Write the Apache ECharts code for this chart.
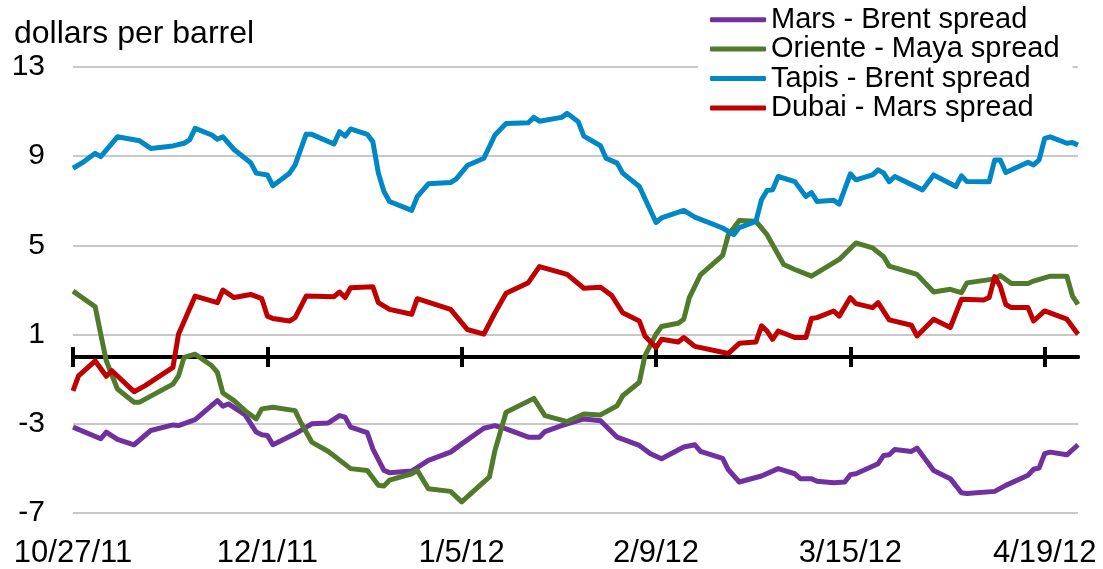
<!DOCTYPE html>
<html>
<head>
<meta charset="utf-8">
<title>Crude oil spreads</title>
<script src="https://cdn.jsdelivr.net/npm/echarts@6/dist/echarts.min.js"></script>
<style>
    html, body { margin: 0; padding: 0; background: #fff; }
    #main { width: 1103px; height: 569px; }
</style>
</head>
<body>
<div id="main"></div>
<script>
    var purple = '#7030A0';
    var green = '#4F7B2B';
    var blue = '#0087C6';
    var red = '#C00000';
    var font = '"Liberation Sans", Arial, sans-serif';

    // axis range and major ticks (every 35 days)
    var startDate = '10/27/11';
    var endDate = '4/25/12';
    var tickDates = ['10/27/11', '12/1/11', '1/5/12', '2/9/12', '3/15/12', '4/19/12'];
    var yTicks = [-7, -3, 1, 5, 9, 13];

    // dollars per barrel, [date, value]
    var marsBrent = [
        ['10/27/11', -3.15], ['11/1/11', -3.67], ['11/2/11', -3.37], ['11/4/11', -3.7], ['11/7/11', -3.94],
        ['11/10/11', -3.3], ['11/14/11', -3.05], ['11/15/11', -3.08], ['11/18/11', -2.81], ['11/22/11', -1.96],
        ['11/23/11', -2.21], ['11/24/11', -2.11], ['11/27/11', -2.6], ['11/29/11', -3.37], ['11/30/11', -3.49],
        ['12/1/11', -3.52], ['12/2/11', -3.94], ['12/6/11', -3.45], ['12/9/11', -3.0], ['12/12/11', -2.96],
        ['12/14/11', -2.63], ['12/15/11', -2.7], ['12/16/11', -3.15], ['12/19/11', -3.4], ['12/20/11', -4.12],
        ['12/22/11', -5.09], ['12/23/11', -5.19], ['12/27/11', -5.12], ['12/30/11', -4.64], ['1/3/12', -4.27],
        ['1/5/12', -3.9], ['1/9/12', -3.2], ['1/11/12', -3.08], ['1/13/12', -3.23], ['1/17/12', -3.6],
        ['1/19/12', -3.6], ['1/20/12', -3.35], ['1/23/12', -3.08], ['1/27/12', -2.78], ['1/30/12', -2.86],
        ['2/2/12', -3.6], ['2/6/12', -3.97], ['2/8/12', -4.34], ['2/10/12', -4.57], ['2/14/12', -4.04],
        ['2/16/12', -3.94], ['2/17/12', -4.24], ['2/21/12', -4.55], ['2/22/12', -5.05], ['2/24/12', -5.61],
        ['2/28/12', -5.34], ['3/2/12', -5.01], ['3/5/12', -5.24], ['3/6/12', -5.46], ['3/8/12', -5.46],
        ['3/9/12', -5.58], ['3/12/12', -5.64], ['3/14/12', -5.61], ['3/15/12', -5.28], ['3/16/12', -5.24],
        ['3/20/12', -4.79], ['3/21/12', -4.42], ['3/22/12', -4.39], ['3/23/12', -4.15], ['3/26/12', -4.24],
        ['3/27/12', -4.09], ['3/30/12', -5.09], ['4/2/12', -5.46], ['4/4/12', -6.09], ['4/5/12', -6.13],
        ['4/10/12', -6.03], ['4/12/12', -5.76], ['4/16/12', -5.31], ['4/17/12', -5.04], ['4/18/12', -4.98],
        ['4/19/12', -4.34], ['4/20/12', -4.27], ['4/23/12', -4.39], ['4/25/12', -3.94]
    ];
    var orienteMaya = [
        ['10/27/11', 2.95], ['10/31/11', 2.25], ['11/1/11', 1.02], ['11/2/11', -0.18], ['11/4/11', -1.44],
        ['11/7/11', -2.03], ['11/8/11', -2.03], ['11/14/11', -1.22], ['11/15/11', -0.85], ['11/16/11', -0.02],
        ['11/18/11', 0.12], ['11/21/11', -0.4], ['11/22/11', -0.69], ['11/23/11', -1.62], ['11/25/11', -1.96],
        ['11/27/11', -2.41], ['11/29/11', -2.78], ['11/30/11', -2.33], ['12/2/11', -2.26], ['12/6/11', -2.41],
        ['12/7/11', -2.93], ['12/9/11', -3.82], ['12/12/11', -4.24], ['12/16/11', -5.01], ['12/19/11', -5.09],
        ['12/21/11', -5.76], ['12/22/11', -5.79], ['12/23/11', -5.53], ['12/27/11', -5.24], ['12/28/11', -5.09],
        ['12/30/11', -5.91], ['1/3/12', -6.03], ['1/5/12', -6.5], ['1/10/12', -5.38], ['1/11/12', -4.19],
        ['1/13/12', -2.48], ['1/18/12', -1.86], ['1/20/12', -2.63], ['1/24/12', -2.9], ['1/27/12', -2.56],
        ['1/30/12', -2.6], ['2/2/12', -2.19], ['2/3/12', -1.74], ['2/6/12', -1.14], ['2/7/12', 0.05],
        ['2/9/12', 1.02], ['2/10/12', 1.36], ['2/13/12', 1.51], ['2/14/12', 1.69], ['2/15/12', 2.66],
        ['2/17/12', 3.68], ['2/21/12', 4.55], ['2/22/12', 5.45], ['2/24/12', 6.12], ['2/27/12', 6.08],
        ['2/29/12', 5.48], ['3/3/12', 4.14], ['3/5/12', 3.92], ['3/8/12', 3.62], ['3/13/12', 4.37],
        ['3/16/12', 5.11], ['3/19/12', 4.89], ['3/21/12', 4.49], ['3/22/12', 4.07], ['3/27/12', 3.7],
        ['3/30/12', 2.91], ['4/2/12', 3.03], ['4/4/12', 2.88], ['4/5/12', 3.32], ['4/10/12', 3.5],
        ['4/11/12', 3.65], ['4/13/12', 3.29], ['4/16/12', 3.29], ['4/17/12', 3.4], ['4/20/12', 3.62],
        ['4/23/12', 3.62], ['4/24/12', 2.73], ['4/25/12', 2.35]
    ];
    var tapisBrent = [
        ['10/27/11', 8.46], ['10/29/11', 8.76], ['10/31/11', 9.13], ['11/1/11', 8.98], ['11/4/11', 9.87],
        ['11/8/11', 9.69], ['11/10/11', 9.35], ['11/14/11', 9.46], ['11/16/11', 9.58], ['11/17/11', 9.73],
        ['11/18/11', 10.25], ['11/21/11', 9.95], ['11/22/11', 9.76], ['11/23/11', 9.87], ['11/25/11', 9.3],
        ['11/28/11', 8.71], ['11/29/11', 8.24], ['12/1/11', 8.16], ['12/2/11', 7.67], ['12/5/11', 8.24],
        ['12/6/11', 8.61], ['12/8/11', 9.99], ['12/9/11', 9.98], ['12/13/11', 9.55], ['12/14/11', 10.1],
        ['12/15/11', 9.9], ['12/16/11', 10.22], ['12/19/11', 9.98], ['12/20/11', 9.65], ['12/21/11', 8.24],
        ['12/22/11', 7.42], ['12/23/11', 6.97], ['12/27/11', 6.57], ['12/28/11', 7.19], ['12/30/11', 7.76],
        ['1/3/12', 7.82], ['1/4/12', 7.97], ['1/6/12', 8.58], ['1/9/12', 8.91], ['1/11/12', 9.95],
        ['1/13/12', 10.47], ['1/17/12', 10.5], ['1/18/12', 10.74], ['1/19/12', 10.57], ['1/23/12', 10.74],
        ['1/24/12', 10.92], ['1/26/12', 10.54], ['1/27/12', 9.9], ['1/30/12', 9.47], ['1/31/12', 8.91],
        ['2/2/12', 8.69], ['2/3/12', 8.24], ['2/6/12', 7.64], ['2/9/12', 6.03], ['2/10/12', 6.23],
        ['2/14/12', 6.57], ['2/16/12', 6.27], ['2/21/12', 5.78], ['2/23/12', 5.48], ['2/24/12', 5.8],
        ['2/27/12', 6.08], ['2/28/12', 7.05], ['2/29/12', 7.46], ['3/1/12', 7.49], ['3/2/12', 8.09],
        ['3/5/12', 7.86], ['3/7/12', 7.19], ['3/8/12', 7.37], ['3/9/12', 6.97], ['3/12/12', 7.02],
        ['3/13/12', 6.85], ['3/15/12', 8.21], ['3/16/12', 7.94], ['3/19/12', 8.16], ['3/20/12', 8.39],
        ['3/21/12', 8.24], ['3/22/12', 7.86], ['3/23/12', 8.09], ['3/28/12', 7.49], ['3/30/12', 8.16],
        ['4/3/12', 7.64], ['4/4/12', 8.12], ['4/5/12', 7.86], ['4/9/12', 7.85], ['4/10/12', 8.83],
        ['4/11/12', 8.83], ['4/12/12', 8.27], ['4/16/12', 8.73], ['4/17/12', 8.61], ['4/18/12', 8.83],
        ['4/19/12', 9.8], ['4/20/12', 9.87], ['4/23/12', 9.58], ['4/24/12', 9.61], ['4/25/12', 9.5]
    ];
    var dubaiMars = [
        ['10/27/11', -1.52], ['10/28/11', -0.85], ['10/31/11', -0.18], ['11/2/11', -0.87], ['11/3/11', -0.62],
        ['11/7/11', -1.56], ['11/9/11', -1.29], ['11/14/11', -0.47], ['11/15/11', 1.02], ['11/18/11', 2.73],
        ['11/22/11', 2.43], ['11/23/11', 3.0], ['11/25/11', 2.66], ['11/28/11', 2.8], ['11/30/11', 2.61],
        ['12/1/11', 1.83], ['12/2/11', 1.72], ['12/5/11', 1.61], ['12/6/11', 1.76], ['12/8/11', 2.73],
        ['12/13/11', 2.7], ['12/14/11', 2.91], ['12/15/11', 2.66], ['12/16/11', 3.1], ['12/20/11', 3.15],
        ['12/21/11', 2.43], ['12/23/11', 2.13], ['12/27/11', 1.91], ['12/28/11', 2.61], ['1/3/12', 2.13],
        ['1/6/12', 1.23], ['1/9/12', 1.02], ['1/11/12', 1.98], ['1/13/12', 2.85], ['1/17/12', 3.33],
        ['1/19/12', 4.05], ['1/24/12', 3.7], ['1/27/12', 3.08], ['1/30/12', 3.12], ['2/1/12', 2.76],
        ['2/3/12', 1.98], ['2/6/12', 1.61], ['2/7/12', 0.94], ['2/9/12', 0.42], ['2/10/12', 0.79],
        ['2/13/12', 0.67], ['2/14/12', 0.87], ['2/16/12', 0.47], ['2/22/12', 0.15], ['2/24/12', 0.61],
        ['2/27/12', 0.67], ['2/28/12', 1.39], ['2/29/12', 1.16], ['3/1/12', 0.79], ['3/2/12', 1.16],
        ['3/5/12', 0.87], ['3/7/12', 0.87], ['3/8/12', 1.72], ['3/9/12', 1.76], ['3/12/12', 2.06],
        ['3/13/12', 1.83], ['3/15/12', 2.66], ['3/16/12', 2.39], ['3/19/12', 2.21], ['3/20/12', 2.43],
        ['3/22/12', 1.66], ['3/26/12', 1.42], ['3/27/12', 0.94], ['3/30/12', 1.69], ['4/2/12', 1.32],
        ['4/4/12', 2.58], ['4/8/12', 2.55], ['4/9/12', 2.66], ['4/10/12', 3.6], ['4/11/12', 3.17],
        ['4/12/12', 2.35], ['4/13/12', 2.21], ['4/16/12', 2.21], ['4/17/12', 1.61], ['4/19/12', 2.06],
        ['4/23/12', 1.69], ['4/25/12', 1.02]
    ];

    var seriesNames = ['Mars - Brent spread', 'Oriente - Maya spread', 'Tapis - Brent spread', 'Dubai - Mars spread'];
    var seriesData = [marsBrent, orienteMaya, tapisBrent, dubaiMars];
    var seriesColors = [purple, green, blue, red];

    // 'M/D/YY' -> whole days since 1970
    function toDays(s) {
        var p = s.split('/');
        return Math.round(Date.UTC(2000 + parseInt(p[2], 10), parseInt(p[0], 10) - 1, parseInt(p[1], 10)) / 86400000);
    }
    var base = toDays(startDate);
    function dayLabel(v) {
        var d = new Date((base + v) * 86400000);
        return (d.getUTCMonth() + 1) + '/' + d.getUTCDate() + '/' + (d.getUTCFullYear() % 100);
    }
    var tickDays = tickDates.map(function (s) { return toDays(s) - base; });
    var xMax = toDays(endDate) - base;

    var xCommon = {
        type: 'value',
        position: 'bottom',
        min: 0,
        max: xMax,
        interval: 35,
        splitLine: {show: false}
    };
    var yCommon = {
        type: 'value',
        min: yTicks[0],
        max: yTicks[yTicks.length - 1],
        interval: 4
    };
    var tickStyle = {color: '#000', width: 4};

    var option = {
        backgroundColor: '#fff',
        animation: false,
        title: {
            text: 'dollars per barrel',
            left: 14,
            top: 18,
            padding: 0,
            textStyle: {fontFamily: font, fontSize: 32, fontWeight: 'normal', color: '#000'}
        },
        legend: {
            orient: 'vertical',
            left: 698,
            top: 1,
            padding: [4, 13, 6, 12],
            backgroundColor: '#fff',
            icon: 'roundRect',
            itemWidth: 56,
            itemHeight: 5,
            itemGap: 0,
            textStyle: {fontFamily: font, fontSize: 29, lineHeight: 29.4, color: '#000'},
            data: seriesNames
        },
        grid: {left: 73, right: 25, top: 67, bottom: 55},
        xAxis: [
            // date labels along the bottom
            Object.assign({}, xCommon, {
                axisLine: {show: false, onZero: false},
                axisTick: {show: false},
                axisLabel: {
                    customValues: tickDays,
                    margin: 25,
                    fontFamily: font, fontSize: 31, color: '#000',
                    formatter: function (v) { return tickDays.indexOf(v) >= 0 ? dayLabel(v) : ''; }
                }
            }),
            // black zero line, ticks below
            Object.assign({}, xCommon, {
                axisLine: {show: true, onZero: true, onZeroAxisIndex: 0, lineStyle: {color: '#000', width: 4}},
                axisTick: {show: true, inside: false, length: 10, customValues: tickDays, lineStyle: tickStyle},
                axisLabel: {show: false}
            }),
            // ticks above, on the zero of the twin y axis
            Object.assign({}, xCommon, {
                axisLine: {show: true, onZero: true, onZeroAxisIndex: 1, lineStyle: {color: '#000', width: 4}},
                axisTick: {show: true, inside: true, length: 10, customValues: tickDays, lineStyle: tickStyle},
                axisLabel: {show: false}
            })
        ],
        yAxis: [
            Object.assign({}, yCommon, {
                axisLine: {show: false},
                axisTick: {show: false},
                axisLabel: {margin: 28, fontFamily: font, fontSize: 30, color: '#000'},
                splitLine: {lineStyle: {color: '#C8C8C8', width: 2}}
            }),
            Object.assign({}, yCommon, {
                position: 'left',
                axisLine: {show: false},
                axisTick: {show: false},
                axisLabel: {show: false},
                splitLine: {show: false}
            })
        ],
        series: seriesData.map(function (pts, i) {
            return {
                name: seriesNames[i],
                type: 'line',
                xAxisIndex: 0,
                yAxisIndex: 0,
                symbol: 'none',
                color: seriesColors[i],
                lineStyle: {width: 5, color: seriesColors[i], join: 'round'},
                data: pts.map(function (p) { return [toDays(p[0]) - base, p[1]]; })
            };
        })
    };

    var myChart = echarts.init(document.getElementById('main'));
    myChart.setOption(option);
</script>
</body>
</html>
